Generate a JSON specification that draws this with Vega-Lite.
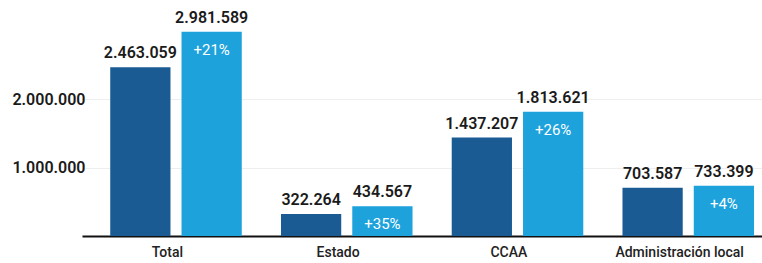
{
  "$schema": "https://vega.github.io/schema/vega-lite/v6.json",
  "autosize": {"type": "none"},
  "width": 683,
  "height": 226,
  "padding": {"left": 82, "top": 10, "right": 0, "bottom": 27},
  "background": "#ffffff",
  "config": {
    "locale": {"number": {"decimal": ",", "thousands": ".", "grouping": [3], "currency": ["", " €"]}},
    "view": {"stroke": null},
    "font": "Roboto"
  },
  "data": {
    "values": [
      {"cat": "Total", "serie": "a", "valor": 2463059, "pct": ""},
      {"cat": "Total", "serie": "b", "valor": 2981589, "pct": "+21%"},
      {"cat": "Estado", "serie": "a", "valor": 322264, "pct": ""},
      {"cat": "Estado", "serie": "b", "valor": 434567, "pct": "+35%"},
      {"cat": "CCAA", "serie": "a", "valor": 1437207, "pct": ""},
      {"cat": "CCAA", "serie": "b", "valor": 1813621, "pct": "+26%"},
      {"cat": "Administración local", "serie": "a", "valor": 703587, "pct": ""},
      {"cat": "Administración local", "serie": "b", "valor": 733399, "pct": "+4%"}
    ]
  },
  "encoding": {
    "x": {
      "field": "cat", "type": "nominal", "sort": null,
      "scale": {"paddingInner": 0, "paddingOuter": 0},
      "axis": {"title": null, "labelAngle": 0, "domain": true, "domainColor": "#111111", "domainWidth": 2, "ticks": false, "labelFontSize": 14, "labelFontWeight": 500, "labelColor": "#222222", "labelPadding": 9}
    },
    "xOffset": {"field": "serie", "type": "nominal", "scale": {"paddingInner": 0.155, "paddingOuter": 0.275, "align": 0.72}},
    "y": {
      "field": "valor", "type": "quantitative",
      "scale": {"domain": [0, 3300000]},
      "axis": {"title": null, "values": [1000000, 2000000], "format": ",d", "domain": false, "ticks": false, "grid": true, "gridColor": "#eeeeee", "gridWidth": 1, "labelFontSize": 16, "labelFontWeight": 600, "labelColor": "#1a1a1a", "labelPadding": -3}
    }
  },
  "layer": [
    {
      "mark": {"type": "bar"},
      "encoding": {
        "color": {"field": "serie", "type": "nominal", "scale": {"domain": ["a", "b"], "range": ["#195b92", "#1ea2dc"]}, "legend": null}
      }
    },
    {
      "mark": {"type": "text", "baseline": "bottom", "dy": -6, "fontSize": 16, "fontWeight": 600, "color": "#1a1a1a"},
      "encoding": {"text": {"field": "valor", "type": "quantitative", "format": ",d"}}
    },
    {
      "mark": {"type": "text", "baseline": "middle", "dy": 18, "fontSize": 15, "color": "#ffffff"},
      "encoding": {"text": {"field": "pct", "type": "nominal"}}
    }
  ]
}
